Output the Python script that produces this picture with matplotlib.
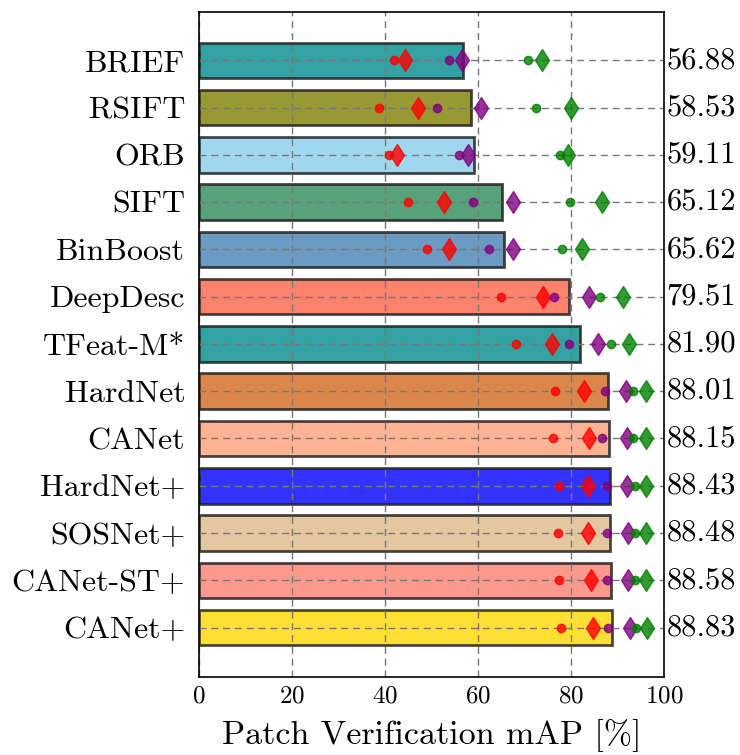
import matplotlib
matplotlib.use("Agg")
import matplotlib.pyplot as plt
import numpy as np

plt.rcParams['font.family'] = 'serif'
plt.rcParams['font.serif'] = ['cmr10']
plt.rcParams['mathtext.fontset'] = 'cm'
plt.rcParams['axes.formatter.use_mathtext'] = True

# data
methods = ['BRIEF', 'RSIFT', 'ORB', 'SIFT', 'BinBoost', 'DeepDesc', 'TFeat-M*',
           'HardNet', 'CANet', 'HardNet+', 'SOSNet+', 'CANet-ST+', 'CANet+']
mean_map = np.array([56.88, 58.53, 59.11, 65.12, 65.62, 79.51, 81.90,
                     88.01, 88.15, 88.43, 88.48, 88.58, 88.83])
colors = ['darkcyan', 'olive', 'skyblue', 'seagreen', 'steelblue', 'tomato', 'darkcyan',
          'chocolate', 'lightsalmon', 'blue', 'burlywood', 'salmon', 'gold']

# per split results: (inter, intra) shown as dot and diamond
red_dot = np.array([42.0, 38.8, 40.9, 45.0, 49.1, 64.9, 68.2, 76.6, 76.2, 77.4, 77.3, 77.4, 77.8])
red_dia = np.array([44.3, 47.2, 42.5, 52.8, 53.8, 74.0, 76.0, 82.9, 83.9, 83.6, 83.7, 84.3, 84.7])
pur_dot = np.array([53.8, 51.3, 56.0, 59.0, 62.4, 76.3, 79.6, 87.3, 86.8, 87.7, 87.7, 87.7, 88.0])
pur_dia = np.array([56.5, 60.6, 57.9, 67.5, 67.5, 83.9, 85.9, 91.8, 92.0, 92.0, 92.3, 92.4, 92.7])
grn_dot = np.array([70.7, 72.5, 77.6, 79.9, 78.1, 86.2, 88.7, 93.4, 93.4, 93.8, 93.8, 93.8, 94.1])
grn_dia = np.array([73.7, 80.1, 79.3, 86.6, 82.5, 91.3, 92.5, 96.1, 96.1, 96.2, 96.2, 96.2, 96.4])

fig = plt.figure(figsize=(7.4, 7.55), dpi=100)
ax = fig.add_axes([0.269, 0.103, 0.628, 0.881])

ypos = np.arange(len(methods))
ax.barh(ypos, mean_map, height=0.75, color=colors, alpha=0.8,
        edgecolor='#1a1a1a', linewidth=2)

for dots, dias, c in [(red_dot, red_dia, 'red'), (pur_dot, pur_dia, 'purple'),
                      (grn_dot, grn_dia, 'green')]:
    ax.plot(dots, ypos, 'o', color=c, markersize=6, alpha=0.8, linestyle='none')
    ax.plot(dias, ypos, 'd', color=c, markersize=11.5, alpha=0.8, linestyle='none')

for y, v in zip(ypos, mean_map):
    ax.text(100.6, y, f"{v:.2f}", va='center', ha='left', fontsize=22, clip_on=False)

ax.set_xlim(0, 100)
ax.set_ylim(13.05, -1.02)
ax.set_yticks(ypos)
ax.set_yticklabels(methods, fontsize=23)
ax.set_xticks([0, 20, 40, 60, 80, 100])
ax.tick_params(axis='x', labelsize=18, length=0, pad=6)
ax.tick_params(axis='y', length=0, pad=10)
ax.grid(True, linestyle=(0, (5, 3.5)), color='#777777', linewidth=1)
for s in ax.spines.values():
    s.set_linewidth(1.2)
ax.set_xlabel('Patch Verification mAP [%]', fontsize=24.5, labelpad=8)

fig.savefig('out.png', dpi=100)
